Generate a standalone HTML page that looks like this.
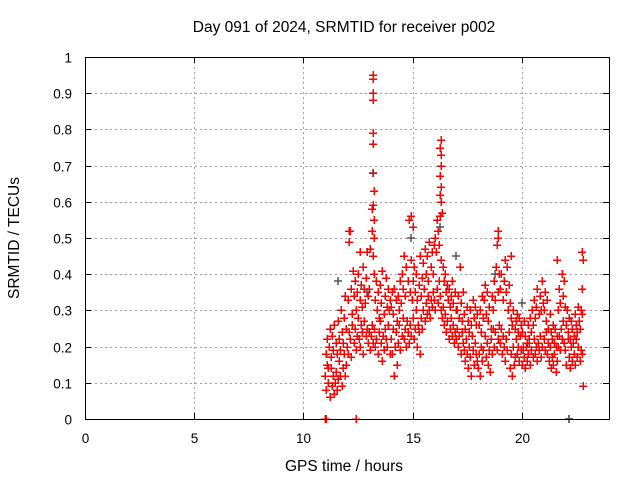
<!DOCTYPE html>
<html><head><meta charset="utf-8"><style>
html,body{margin:0;padding:0;background:#fff}
svg{display:block;font-family:"Liberation Sans",sans-serif}
</style></head><body>
<svg id="chart" width="640" height="480">
<rect width="640" height="480" fill="#fff"/>
<text x="344" y="32" font-size="15.5" text-anchor="middle">Day 091 of 2024, SRMTID for receiver p002</text>
<text x="344" y="471" font-size="15.5" text-anchor="middle">GPS time / hours</text>
<text transform="translate(19,238) rotate(-90)" font-size="15.5" text-anchor="middle">SRMTID / TECUs</text>
<g id="grid"></g>
<g id="axes"></g>
<g id="grayPts"></g>
<g id="redPts" shape-rendering="crispEdges"></g>
<rect x="85.5" y="57.5" width="524" height="362" fill="none" stroke="#000" stroke-width="1"/>
</svg>
<script>
const xTicks=[0,5,10,15,20];
const yTicks=[0,0.1,0.2,0.3,0.4,0.5,0.6,0.7,0.8,0.9,1];
const yTickLabels=["0","0.1","0.2","0.3","0.4","0.5","0.6","0.7","0.8","0.9","1"];
const seriesStart=11.0, seriesStep=0.05;
const seriesA=[.12,.08,.15,.10,.06,.14,.09,.12,.07,.10,.13,.08,.11,.16,.12,.09,.14,.18,.12,.15,
.20,.18,.24,.22,.17,.26,.21,.25,.19,.23,.28,.22,.20,.26,.24,.18,.27,.23,.25,.21,
.24,.19,.23,.26,.21,.25,.20,.22,.18,.24,.27,.21,.16,.23,.19,.25,.22,.20,.26,.18,
.22,.18,.25,.12,.20,.24,.15,.21,.26,.19,.23,.28,.22,.25,.20,.27,.24,.21,.26,.23,
.28,.22,.25,.30,.20,.26,.24,.18,.28,.25,.30,.27,.32,.29,.34,.30,.28,.33,.31,.35,
.33,.30,.36,.32,.38,.34,.30,.28,.31,.26,.29,.24,.27,.22,.25,.28,.23,.26,.21,.24,
.22,.25,.20,.23,.18,.24,.21,.19,.16,.22,.18,.14,.20,.17,.12,.19,.15,.21,.18,.16,
.14,.18,.12,.20,.16,.19,.23,.17,.21,.15,.19,.13,.22,.18,.25,.20,.24,.19,.22,.26,
.21,.25,.18,.23,.20,.16,.22,.19,.24,.14,.18,.12,.20,.15,.17,.22,.18,.20,.16,.19,
.15,.19,.17,.14,.20,.16,.18,.21,.15,.19,.17,.22,.18,.20,.16,.21,.19,.23,.17,.20,
.22,.19,.24,.18,.21,.16,.20,.14,.17,.15,.18,.13,.16,.20,.23,.19,.25,.22,.27,.21,
.19,.15,.22,.17,.14,.20,.16,.21,.18,.15,.22,.17,.20,.16,.19,.18,.09];
const seriesB=[.18,.22,.14,.20,.25,.17,.23,.19,.26,.21,.18,.27,.22,.19,.30,.24,.21,.28,.34,.25,
.33,.49,.52,.36,.29,.41,.34,.38,.30,.35,.40,.33,.37,.31,.42,.36,.32,.39,.46,.34,
.36,.47,.58,.45,.40,.33,.38,.30,.35,.28,.37,.32,.41,.29,.34,.39,.31,.36,.30,.33,
.31,.35,.29,.36,.33,.27,.34,.30,.38,.32,.40,.36,.45,.34,.42,.38,.55,.35,.44,.33,
.38,.42,.35,.40,.33,.37,.45,.34,.39,.43,.36,.47,.40,.45,.38,.49,.42,.46,.40,.48,
.50,.46,.55,.52,.48,.56,.44,.42,.38,.40,.35,.37,.33,.36,.31,.34,.38,.32,.35,.30,
.30,.34,.28,.42,.32,.27,.35,.29,.25,.31,.27,.24,.30,.26,.23,.33,.28,.31,.26,.29,
.26,.30,.24,.34,.28,.33,.37,.29,.35,.27,.31,.25,.34,.30,.38,.33,.42,.48,.35,.40,
.36,.40,.33,.38,.44,.35,.42,.30,.37,.32,.28,.26,.30,.25,.27,.29,.24,.28,.23,.26,
.24,.20,.27,.23,.21,.26,.22,.28,.24,.30,.26,.33,.28,.31,.36,.29,.34,.30,.38,.32,
.30,.35,.27,.33,.25,.29,.24,.22,.26,.21,.25,.20,.23,.30,.36,.32,.40,.34,.38,.31,
.26,.30,.24,.28,.22,.27,.25,.23,.29,.26,.24,.31,.27,.25,.30,.29,.44];
const extraTimes=[13.18,13.2,13.19,13.2,13.21,13.19,13.2,13.22,13.18,13.24,13.15,13.22,
16.3,16.28,16.32,16.3,16.26,16.31,16.29,16.33,16.25,
14.95,15.0,18.9,18.92,19.5,21.6,22.75,22.78,22.78,12.6,12.1,11.0,11.03,12.4];
const extraValues=[.95,.94,.90,.88,.79,.76,.68,.63,.59,.55,.52,.50,
.77,.75,.73,.70,.67,.64,.60,.57,.62,
.56,.53,.52,.50,.45,.44,.46,.36,.29,.46,.52,0,0,0];
const grayTimes=[13.18,14.95,16.25,17.0,11.6,20.0,18.8,12.9,22.15,22.18];
const grayValues=[.68,.50,.53,.45,.38,.32,.40,.35,0,0];

const X0=85,X1=609,Y0=419,Y1=57,XMAX=24;
const xs=t=>X0+t/XMAX*(X1-X0);
const ys=v=>Y0-v*(Y0-Y1);
const NS="http://www.w3.org/2000/svg";
function mk(tag,attrs,parent){const e=document.createElementNS(NS,tag);for(const k in attrs)e.setAttribute(k,attrs[k]);parent.appendChild(e);return e;}
const grid=document.getElementById('grid'),axes=document.getElementById('axes');
yTicks.forEach((v,i)=>{
 const y=Math.round(ys(v))+0.5;
 if(v>0&&v<1){const g=mk('line',{x1:X0,x2:X1,y1:y,y2:y,stroke:'#a0a0a0','stroke-dasharray':'2,3'},grid);
 
 }
 const t1=mk('line',{x1:X0,x2:X0+6,y1:y,y2:y,stroke:'#000'},axes);
 
 
 const t2=mk('line',{x1:X1-6,x2:X1,y1:y,y2:y,stroke:'#000'},axes);
 
 
 const l=mk('text',{x:72,y:y+5,'font-size':13.5,'text-anchor':'end'},axes);
 l.textContent=yTickLabels[i];
 
 
});
xTicks.forEach(t=>{
 const x=Math.round(xs(t))+0.5;
 if(t>0){const g=mk('line',{x1:x,x2:x,y1:Y1,y2:Y0,stroke:'#a0a0a0','stroke-dasharray':'2,3'},grid);
 
 }
 const t1=mk('line',{x1:x,x2:x,y1:Y0,y2:Y0-6,stroke:'#000'},axes);
 
 
 const t2=mk('line',{x1:x,x2:x,y1:Y1,y2:Y1+6,stroke:'#000'},axes);
 
 
 const l=mk('text',{x:x,y:443,'font-size':13.5,'text-anchor':'middle'},axes);
 l.textContent=String(t);
 
 
});
function plus(parent,t,v,color){
 const x=Math.round(xs(t)),y=Math.round(ys(v));
 const p=mk('path',{d:`M${x-4},${y}H${x+4}M${x},${y-4}V${y+4}`,stroke:color,'stroke-width':1.5,fill:'none'},parent);
 
 
}
const gp=document.getElementById('grayPts'),rp=document.getElementById('redPts');
grayTimes.forEach((t,i)=>plus(gp,t,grayValues[i],'#555'));
seriesA.forEach((v,i)=>plus(rp,seriesStart+i*seriesStep,v,'#ff0000'));
seriesB.forEach((v,i)=>plus(rp,seriesStart+i*seriesStep+0.025,v,'#ff0000'));
extraTimes.forEach((t,i)=>plus(rp,t,extraValues[i],'#ff0000'));
</script>
</body></html>
